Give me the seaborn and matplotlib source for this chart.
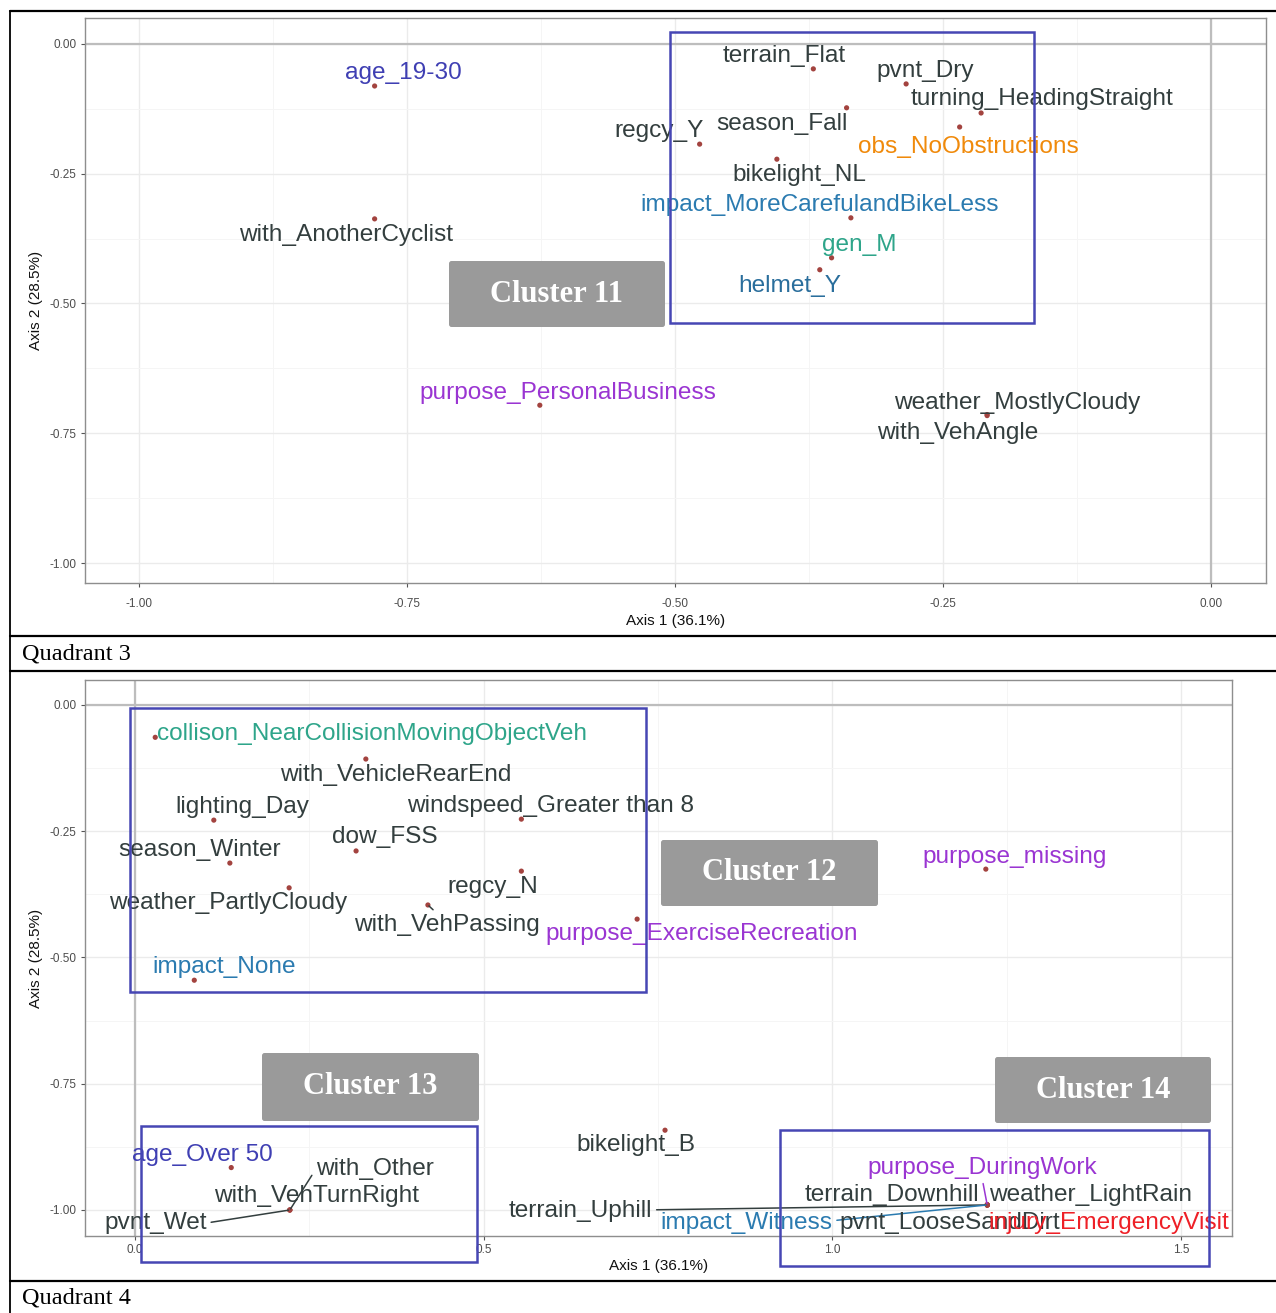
import matplotlib
matplotlib.use("Agg")
import matplotlib.pyplot as plt
import seaborn as sns
import pandas as pd
import numpy as np
from matplotlib.patches import Rectangle, FancyBboxPatch
from matplotlib.lines import Line2D
from matplotlib.ticker import MultipleLocator

# ---------------- data ----------------
# Quadrant 3
q3_labels = ["age_19-30", "with_AnotherCyclist", "purpose_PersonalBusiness", "regcy_Y",
             "terrain_Flat", "season_Fall", "bikelight_NL", "impact_MoreCarefulandBikeLess",
             "gen_M", "helmet_Y", "pvnt_Dry", "turning_HeadingStraight", "obs_NoObstructions",
             "weather_MostlyCloudy", "with_VehAngle"]
q3_x = [-0.780, -0.780, -0.626, -0.477, -0.371, -0.340, -0.405, -0.336,
        -0.354, -0.365, -0.2845, -0.2146, -0.2346, -0.209, -0.209]
q3_y = [-0.081, -0.337, -0.696, -0.193, -0.048, -0.123, -0.222, -0.335,
        -0.412, -0.435, -0.077, -0.133, -0.160, -0.714, -0.716]
q3_group = ["age", "other", "purpose", "other", "other", "other", "other", "impact",
            "gen", "helmet", "other", "other", "obs", "other", "other"]

# Quadrant 4
q4_labels = ["collison_NearCollisionMovingObjectVeh", "with_VehicleRearEnd", "lighting_Day",
             "windspeed_Greater than 8", "dow_FSS", "season_Winter", "regcy_N",
             "weather_PartlyCloudy", "with_VehPassing", "purpose_ExerciseRecreation",
             "impact_None", "purpose_missing", "age_Over 50", "bikelight_B",
             "with_Other", "with_VehTurnRight", "pvnt_Wet", "terrain_Uphill",
             "purpose_DuringWork", "terrain_Downhill", "weather_LightRain",
             "impact_Witness", "pvnt_LooseSandDirt", "injury_EmergencyVisit"]
q4_x = [0.029, 0.331, 0.113, 0.554, 0.317, 0.136, 0.554, 0.221, 0.420, 0.720,
        0.085, 1.220, 0.138, 0.760, 0.222, 0.222, 0.222, 1.222,
        1.222, 1.222, 1.222, 1.222, 1.222, 1.222]
q4_y = [-0.064, -0.107, -0.228, -0.226, -0.289, -0.313, -0.329, -0.362, -0.396, -0.424,
        -0.545, -0.325, -0.916, -0.842, -1.000, -1.000, -1.000, -0.990,
        -0.990, -0.990, -0.990, -0.990, -0.990, -0.990]
q4_group = ["collison", "other", "other", "other", "other", "other", "other", "other",
            "other", "purpose", "impact", "purpose", "age", "other", "other", "other",
            "other", "other", "purpose", "other", "other", "impact", "other", "injury"]

# label placement (offsets in pixels from point, x right / y up), repel-like
q3_dx = [29, -29, 28, -41, -29, -65, 23, -31, 28, -30, 19, 61, 8.5, 30, -29]
q3_dy = [13, -16, 12, 13, 13, -16, -16, 13, 13, -16, 13, 14, -20, 12, -17]
q4_dx = [217, 30, 29, 29, 29, -30, -28.5, -61, 19, 65, 29.5, 29, -29, -29,
         85, 27, -134.6, -407, -5, -95.5, 103, -241, -37, 122]
q4_dy = [3, -16, 13, 13, 14, 13, -16, -15, -20, -15, 13, 12, 13, -15,
         41, 14, -13, -6, 37, 10, 10, -18, -18, -18]
# segments: label -> (relpos on label box)
q4_seg = {"with_VehPassing": (0.45, 1.0), "with_Other": (0.0, 0.5), "pvnt_Wet": (1.0, 0.5),
          "terrain_Uphill": (1.0, 0.55), "purpose_DuringWork": (0.5, 0.0),
          "impact_Witness": (1.0, 0.6)}

colors = {"other": "#333E3E", "age": "#3F3FB3", "purpose": "#9A35D2", "impact": "#2B7BB0",
          "gen": "#2EA58A", "helmet": "#2A6E9C", "obs": "#F08A0B", "collison": "#2EA58A",
          "injury": "#EE2027"}

df3 = pd.DataFrame({"x": q3_x, "y": q3_y, "label": q3_labels, "group": q3_group})
df4 = pd.DataFrame({"x": q4_x, "y": q4_y, "label": q4_labels, "group": q4_group})

# ---------------- figure ----------------
W, H = 1276, 1313
sns.set_style("white")
plt.rcParams["font.family"] = ["Liberation Sans", "DejaVu Sans"]
fig = plt.figure(figsize=(W / 100, H / 100), dpi=100)
fig.patch.set_facecolor("white")


def ax_px(l, t, r, b):
    return fig.add_axes([l / W, 1 - b / H, (r - l) / W, (b - t) / H])


def style(ax, xlim, ylim, xmaj, ymaj, xfmt, yfmt, xpad):
    ax.set_xlim(*xlim)
    ax.set_ylim(*ylim)
    ax.xaxis.set_major_locator(MultipleLocator(xmaj))
    ax.xaxis.set_minor_locator(MultipleLocator(xmaj / 2))
    ax.yaxis.set_major_locator(MultipleLocator(ymaj))
    ax.yaxis.set_minor_locator(MultipleLocator(ymaj / 2))
    ax.grid(which="major", color="#EBEBEB", lw=1.0, zorder=0)
    ax.grid(which="minor", color="#F5F5F5", lw=0.7, zorder=0)
    ax.set_axisbelow(True)
    for s in ax.spines.values():
        s.set_color("#8E8E8E")
        s.set_linewidth(1.0)
    ax.tick_params(which="major", length=3, width=0.8, color="#555555",
                   labelsize=8.5, labelcolor="#4D4D4D", direction="out", pad=3,
                   bottom=True, left=True)
    ax.tick_params(axis="x", which="major", pad=xpad)
    ax.tick_params(which="minor", length=0)
    ax.xaxis.set_major_formatter(matplotlib.ticker.FormatStrFormatter(xfmt))
    ax.yaxis.set_major_formatter(matplotlib.ticker.FormatStrFormatter(yfmt))
    ax.axhline(0, color="#BDBDBD", lw=1.6, zorder=1)
    ax.axvline(0, color="#BDBDBD", lw=1.6, zorder=1)
    ax.set_xlabel("Axis 1 (36.1%)", fontsize=11, color="#111111", labelpad=2)
    ax.set_ylabel("Axis 2 (28.5%)", fontsize=11, color="#111111", labelpad=6)


def draw(ax, df, dxs, dys, segs):
    sns.scatterplot(data=df, x="x", y="y", ax=ax, color="#A3433F", s=14,
                    edgecolor="none", legend=False, zorder=3)
    for i, row in df.iterrows():
        c = colors[row["group"]]
        kw = {}
        if row["label"] in segs:
            kw["arrowprops"] = dict(arrowstyle="-", color=c, lw=1.1, shrinkA=1, shrinkB=1,
                                    relpos=segs[row["label"]])
        ax.annotate(row["label"], (row["x"], row["y"]), xytext=(dxs[i], dys[i]),
                    textcoords="offset pixels", ha="center", va="center",
                    fontsize=17.6, color=c, zorder=4, annotation_clip=False, **kw)


# top panel
ax1 = ax_px(85, 18, 1266, 583)
style(ax1, (-1.050, 0.051), (-1.0385, 0.050), 0.25, 0.25, "%.2f", "%.2f", 7.5)
draw(ax1, df3, q3_dx, q3_dy, {})
ax1.xaxis.set_label_coords(0.5, -0.055)
ax1.yaxis.set_label_coords(-0.0356, 0.5)

# bottom panel
ax2 = ax_px(85, 680, 1232, 1236)
style(ax2, (-0.0717, 1.573), (-1.0515, 0.0495), 0.5, 0.25, "%.1f", "%.2f", 3)
draw(ax2, df4, q4_dx, q4_dy, q4_seg)
ax2.xaxis.set_label_coords(0.5, -0.041)
ax2.yaxis.set_label_coords(-0.0366, 0.5)


# ---------------- annotations (figure pixel coords) ----------------
def fx(x):
    return x / W


def fy(y):
    return 1 - y / H


def blue_box(l, t, r, b):
    fig.add_artist(Rectangle((fx(l), fy(b)), (r - l) / W, (b - t) / H, fill=False,
                             edgecolor="#4646B4", lw=1.8, transform=fig.transFigure,
                             zorder=10))


def cluster(l, t, r, b, text):
    fig.add_artist(FancyBboxPatch((fx(l), fy(b)), (r - l) / W, (b - t) / H,
                                  boxstyle="round,pad=0,rounding_size=0.002",
                                  facecolor="#9A9A9A", edgecolor="none",
                                  transform=fig.transFigure, zorder=10))
    fig.text(fx((l + r) / 2), fy((t + b) / 2), text, ha="center", va="center",
             color="white", fontsize=22, fontweight="bold",
             family=["Liberation Serif", "DejaVu Serif"], zorder=11)


blue_box(670, 32, 1034, 323)
cluster(449, 261, 665, 327, "Cluster 11")
blue_box(130, 708, 646, 992)
cluster(661, 840, 878, 906, "Cluster 12")
blue_box(141, 1126, 477, 1262)
cluster(262, 1053, 479, 1121, "Cluster 13")
blue_box(780, 1130, 1209, 1266)
cluster(995, 1057, 1211, 1123, "Cluster 14")

# table frame lines
for y in (11, 636, 671, 1281):
    fig.add_artist(Line2D([fx(10), fx(1276)], [fy(y), fy(y)], color="black", lw=1.6,
                          transform=fig.transFigure))
fig.add_artist(Line2D([fx(10), fx(10)], [fy(11), fy(1313)], color="black", lw=1.3,
                      transform=fig.transFigure))

fig.text(fx(22), fy(654), "Quadrant 3", ha="left", va="center", fontsize=17.5,
         family=["Liberation Serif", "DejaVu Serif"], color="black")
fig.text(fx(22), fy(1298), "Quadrant 4", ha="left", va="center", fontsize=17.5,
         family=["Liberation Serif", "DejaVu Serif"], color="black")

fig.savefig("out.png", dpi=100, facecolor="white")
